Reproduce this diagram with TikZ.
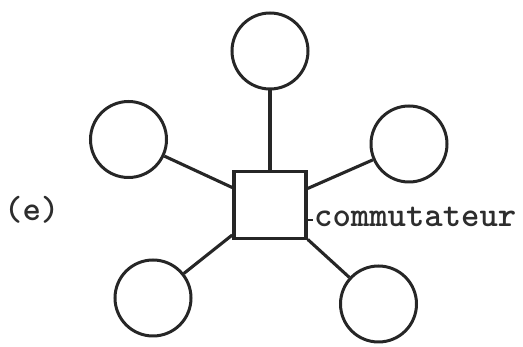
\documentclass[tikz,border=0pt]{standalone}
\usepackage{xcolor}
\usepackage{tikz}
\usetikzlibrary{positioning}
\definecolor{ink}{RGB}{38, 38, 38}
\definecolor{typed}{RGB}{45, 45, 45}

\begin{document}
\begin{tikzpicture}[
    x=1pt, y=-1pt,
    % Node Styles
    station/.style={circle, draw=ink, line width=3pt, minimum size=76pt, inner sep=0pt},
    switchbox/.style={rectangle, draw=ink, line width=3.5pt, minimum width=72pt, minimum height=67pt, inner sep=0pt},
    % Line Styles
    link/.style={draw=ink, line width=3.1pt},
    tick/.style={draw=ink, line width=2.2pt},
    lbl/.style={font=\fontsize{35}{40}\selectfont\ttfamily\bfseries, text=typed, inner sep=0pt}
]
    \useasboundingbox (0,0) rectangle (523,347);

    % =========================================================================
    % 1. CENTRE: SWITCH
    % =========================================================================
    \node (switch) [switchbox] at (270, 205) {};

    % =========================================================================
    % 2. STATIONS AROUND THE SWITCH
    % =========================================================================
    \node (st_top)   [station] at (270, 51) {};
    \node (st_left)  [station] at (128.5, 139.5) {};
    \node (st_right) [station] at (409, 144) {};
    \node (st_bl)    [station] at (153, 298) {};
    \node (st_br)    [station] at (378.5, 304) {};

    % =========================================================================
    % 3. LABELS
    % =========================================================================
    \node (case_e) [lbl, anchor=base west] at (4, 221) {(e)};
    \node (sw_lbl) [lbl, anchor=base west] at (314, 227) {commutateur};
    \coordinate (tick_end) at (313, 220);

    % =========================================================================
    % CONNECTIONS
    % =========================================================================
    \draw[link] (st_top) -- (switch);
    \draw[link] (st_left) -- (switch);
    \draw[link] (st_right) -- (switch);
    \draw[link] (st_bl) -- (switch);
    \draw[link] (st_br) -- (switch);

    \draw[tick] (switch.east |- tick_end) -- (tick_end);

\end{tikzpicture}
\end{document}
